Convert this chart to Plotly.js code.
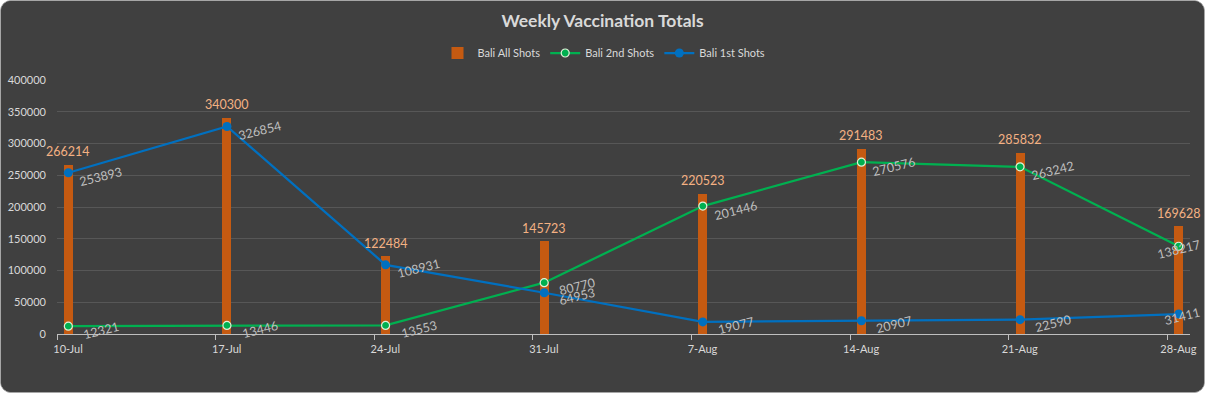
<!DOCTYPE html>
<html>
<head>
<meta charset="utf-8">
<script src="https://cdn.plot.ly/plotly-3.0.1.min.js"></script>
<style>
  html, body { margin: 0; padding: 0; background: #ffffff; }
  #wrap {
    position: absolute; left: 0; top: 0;
    width: 1205px; height: 393px;
    box-sizing: border-box;
    border: 1px solid #a6a6a6;
    border-radius: 11px;
    background: #404040;
    overflow: hidden;
  }
  #chart { width: 1203px; height: 391px; }
</style>
</head>
<body>
<div id="wrap"><div id="chart"></div></div>
<script>
const dates = ["2021-07-10","2021-07-17","2021-07-24","2021-07-31","2021-08-07","2021-08-14","2021-08-21","2021-08-28"];
const dateLabels = ["10-Jul","17-Jul","24-Jul","31-Jul","7-Aug","14-Aug","21-Aug","28-Aug"];
const allShots = [266214, 340300, 122484, 145723, 220523, 291483, 285832, 169628];
const secondShots = [12321, 13446, 13553, 80770, 201446, 270576, 263242, 138217];
const firstShots = [253893, 326854, 108931, 64953, 19077, 20907, 22590, 31411];

// data sit in the middle of each day on Excel's date axis
const mid = dates.map(d => d + " 12:00");
const DAY = 86400000;

const font = "Lato, 'Open Sans', sans-serif";

const traces = [
  {
    type: "bar", name: "Bali All Shots", x: mid, y: allShots,
    width: 0.4 * DAY,
    marker: { color: "#C55A11" },
    hoverinfo: "skip"
  },
  {
    type: "scatter", mode: "lines+markers", name: "Bali 2nd Shots",
    x: mid, y: secondShots,
    line: { color: "#00B050", width: 2.25 },
    marker: { color: "#00B050", size: 8, line: { color: "#E2F0D9", width: 1.2 } },
    hoverinfo: "skip"
  },
  {
    type: "scatter", mode: "lines+markers", name: "Bali 1st Shots",
    x: mid, y: firstShots,
    line: { color: "#0070C0", width: 2.25 },
    marker: { color: "#0070C0", size: 9 },
    hoverinfo: "skip"
  }
];

const annotations = [];
const last = mid.length - 1;
mid.forEach((x, i) => {
  annotations.push({
    x: x, y: allShots[i], xref: "x", yref: "y",
    text: String(allShots[i]), showarrow: false,
    yshift: 13, xanchor: "center", yanchor: "middle",
    font: { family: font, size: 12.5, color: "#F4B183" }
  });
  annotations.push({
    x: x, y: secondShots[i], xref: "x", yref: "y",
    text: String(secondShots[i]), showarrow: false,
    xshift: i === last ? 0 : 33, yshift: i === last ? -3 : -4, textangle: -14,
    xanchor: "center", yanchor: "middle",
    font: { family: font, size: 12.5, color: "#BFBFBF" }
  });
  annotations.push({
    x: x, y: firstShots[i], xref: "x", yref: "y",
    text: String(firstShots[i]), showarrow: false,
    xshift: i === last ? 3 : 33, yshift: i === last ? -2 : -4, textangle: -14,
    xanchor: "center", yanchor: "middle",
    font: { family: font, size: 12.5, color: "#BFBFBF" }
  });
});

const layout = {
  width: 1203, height: 391,
  paper_bgcolor: "#404040", plot_bgcolor: "#404040",
  margin: { l: 56, r: 14, t: 79, b: 58 },
  font: { family: font, color: "#D9D9D9", size: 11 },
  title: {
    text: "<b>Weekly Vaccination Totals</b>",
    font: { family: font, size: 17.5, color: "#D9D9D9" },
    x: 0.5, xanchor: "center", y: 1 - 20 / 391, yanchor: "middle"
  },
  showlegend: true,
  legend: {
    orientation: "h", x: (604 - 57) / 1133, xanchor: "center",
    y: 1 + 27 / 254, yanchor: "middle",
    font: { family: font, size: 11, color: "#D9D9D9" },
    bgcolor: "rgba(0,0,0,0)", traceorder: "normal"
  },
  xaxis: {
    type: "date",
    range: ["2021-07-10", "2021-08-29"],
    tickmode: "array", tickvals: dates, ticktext: dateLabels,
    ticks: "outside", ticklen: 5, tickcolor: "#BFBFBF",
    ticklabelshift: 11,
    showline: true, linecolor: "#BFBFBF", linewidth: 1,
    showgrid: false, zeroline: false,
    tickfont: { family: font, size: 11, color: "#D9D9D9" },
    fixedrange: true
  },
  yaxis: {
    range: [0, 400000],
    tickmode: "linear", tick0: 0, dtick: 50000,
    tickformat: "d",
    showgrid: true, gridcolor: "#575757", gridwidth: 1,
    zeroline: false, showline: false,
    ticks: "", ticklabelstandoff: 10,
    tickfont: { family: font, size: 11, color: "#D9D9D9" },
    fixedrange: true
  },
  bargap: 0,
  annotations: annotations
};

Plotly.newPlot("chart", traces, layout, { displayModeBar: false, staticPlot: true });
</script>
</body>
</html>
